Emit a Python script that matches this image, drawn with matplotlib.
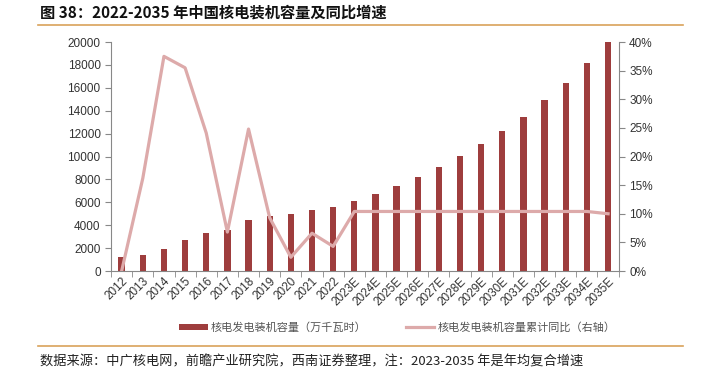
import numpy as np
import matplotlib
matplotlib.use("Agg")
import matplotlib.pyplot as plt
from matplotlib.ticker import FuncFormatter, MultipleLocator

plt.rcParams['font.family'] = ['Noto Sans CJK SC', 'DejaVu Sans']

years = ["2012", "2013", "2014", "2015", "2016", "2017", "2018", "2019", "2020",
         "2021", "2022", "2023E", "2024E", "2025E", "2026E", "2027E", "2028E",
         "2029E", "2030E", "2031E", "2032E", "2033E", "2034E", "2035E"]
capacity = [1250, 1400, 1950, 2700, 3300, 3550, 4450, 4800, 4950, 5300, 5550,
            6130, 6720, 7450, 8200, 9080, 10040, 11090, 12230, 13480, 14900,
            16420, 18140, 20000]
growth = [0.0, 16.2, 37.5, 35.5, 24.1, 6.8, 24.8, 9.3, 2.4, 6.6, 4.3,
          10.4, 10.4, 10.4, 10.4, 10.4, 10.4, 10.4, 10.4, 10.4, 10.4, 10.4, 10.4, 10.0]

bar_name = "核电发电装机容量（万千瓦时）"
line_name = "核电发电装机容量累计同比（右轴）"
title = "图 38：2022-2035 年中国核电装机容量及同比增速"
source = "数据来源：中广核电网，前瞻产业研究院，西南证券整理，注：2023-2035 年是年均复合增速"

bar_color = "#9E3D3D"
line_color = "#DDAAAA"
rule_color = "#D9A25A"
text_color = "#333333"
num_font = ["Liberation Sans", "DejaVu Sans"]

fig = plt.figure(figsize=(7.03, 3.72), dpi=100)
ax = fig.add_axes([0.158, 0.2715, 0.722, 0.6155])
ax2 = ax.twinx()

x = np.arange(len(years))
bars = ax.bar(x, capacity, width=0.3, color=bar_color, zorder=2)
line, = ax2.plot(x, growth, color=line_color, lw=2.3, zorder=3)

ax.set_xlim(-0.5, len(years) - 0.5)
ax.set_ylim(0, 20000)
ax.yaxis.set_major_locator(MultipleLocator(2000))
ax2.set_ylim(0, 40)
ax2.yaxis.set_major_locator(MultipleLocator(5))
ax2.yaxis.set_major_formatter(FuncFormatter(lambda v, p: "{:.0f}%".format(v)))

ax.set_xticks(x)
ax.set_xticklabels(years, rotation=45, ha="right", rotation_mode="anchor",
                   fontsize=8.5, color=text_color, family=num_font)
ax.set_xticks(np.arange(len(years) + 1) - 0.5, minor=True)
ax.tick_params(axis="x", which="major", length=0, pad=3)
ax.tick_params(axis="x", which="minor", length=4, color="#888888")
ax.tick_params(axis="y", labelsize=8.5, labelcolor=text_color, length=4, color="#888888")
ax2.tick_params(axis="y", labelsize=8.5, labelcolor=text_color, length=4, color="#888888")
for lab in ax.get_yticklabels() + ax2.get_yticklabels():
    lab.set_family(num_font)

for a in (ax, ax2):
    a.spines["top"].set_visible(False)
    for s in ("left", "right", "bottom"):
        a.spines[s].set_color("#888888")
        a.spines[s].set_linewidth(0.8)
ax.spines["right"].set_visible(False)
ax2.spines["left"].set_visible(False)
ax2.spines["bottom"].set_visible(False)

fig.legend([bars, line], [bar_name, line_name], loc="center",
           bbox_to_anchor=(0.565, 0.12), ncol=2, frameon=False,
           fontsize=8, labelcolor="#555555", handlelength=2.6,
           handleheight=0.5, columnspacing=3.5, handletextpad=0.3)

fig.text(0.057, 0.965, title, fontsize=11, fontweight="bold", va="center",
         color="#111111")
fig.add_artist(plt.Line2D([0.054, 0.972], [0.933, 0.933], color=rule_color, lw=1.2))
fig.add_artist(plt.Line2D([0.054, 0.972], [0.07, 0.07], color=rule_color, lw=1.2))
fig.text(0.057, 0.027, source, fontsize=9.5, style="italic", va="center",
         color="#222222")

fig.savefig("out.png", dpi=100)
